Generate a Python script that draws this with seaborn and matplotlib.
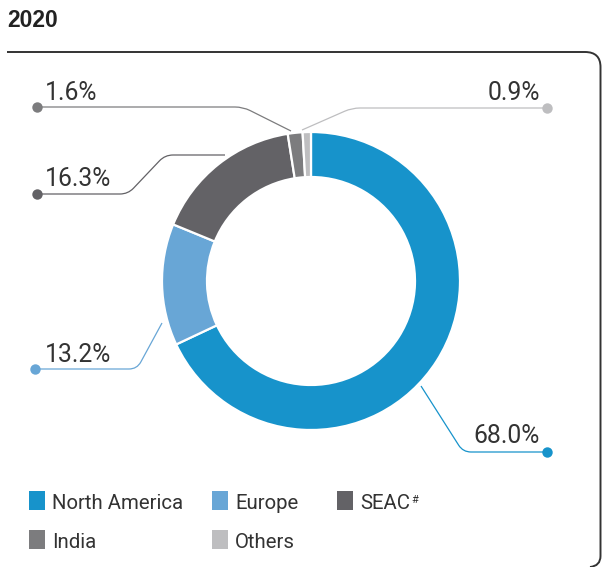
import numpy as np
import matplotlib
matplotlib.use("Agg")
import matplotlib.pyplot as plt
import seaborn as sns
from matplotlib.patches import Rectangle
from matplotlib.path import Path
from matplotlib.patches import PathPatch

# ---------------- data ----------------
title = "2020"
regions = ["North America", "Europe", "SEAC", "India", "Others"]
shares = [68.0, 13.2, 16.3, 1.6, 0.9]
colors = ["#1793cb", "#68a6d6", "#636266", "#7c7c7e", "#bebec0"]
label_texts = [f"{v:.1f}%" for v in shares]

# ---------------- style ----------------
sns.set_theme(style="white")
plt.rcParams["font.family"] = ["Roboto", "Liberation Sans", "DejaVu Sans"]
TXT = "#333333"

W, H = 602, 567
fig = plt.figure(figsize=(W / 100, H / 100), dpi=100)
ax = fig.add_axes([0, 0, 1, 1])


def Y(y):
    return H - y


# donut
ax.pie(shares, colors=colors, startangle=90, counterclock=False,
       radius=149, center=(311, Y(281)),
       wedgeprops=dict(width=45, edgecolor="white", linewidth=1.6))
ax.set_xlim(0, W)
ax.set_ylim(0, H)
ax.set_aspect("auto")
ax.axis("off")


def rounded_path(pts, r=8):
    pts = [np.array((x, Y(y)), float) for x, y in pts]
    verts = [pts[0]]
    codes = [Path.MOVETO]
    for i in range(1, len(pts) - 1):
        p0, p1, p2 = pts[i - 1], pts[i], pts[i + 1]
        d0 = (p0 - p1) / np.linalg.norm(p0 - p1)
        d2 = (p2 - p1) / np.linalg.norm(p2 - p1)
        a = p1 + d0 * r
        b = p1 + d2 * r
        verts += [a, p1, b]
        codes += [Path.LINETO, Path.CURVE3, Path.CURVE3]
    verts.append(pts[-1])
    codes.append(Path.LINETO)
    return Path(verts, codes)


# leader lines (layout geometry, pixel coords) per region
leaders = {
    "North America": [(547, 452), (463, 452), (421, 386)],
    "Europe": [(35, 369), (137, 369), (162, 323)],
    "SEAC": [(37, 194), (128, 194), (165, 155), (225, 155)],
    "India": [(37, 107), (243, 107), (291, 131)],
    "Others": [(547, 108), (352, 108), (302, 130)],
}
label_pos = {
    "North America": (540, 443, "right"),
    "Europe": (45, 362, "left"),
    "SEAC": (45, 186, "left"),
    "India": (45, 100, "left"),
    "Others": (540, 100, "right"),
}

for reg, col, lab in zip(regions, colors, label_texts):
    pts = leaders[reg]
    ax.add_patch(PathPatch(rounded_path(pts), facecolor="none", edgecolor=col,
                           lw=0.9, capstyle="butt"))
    ax.plot([pts[0][0]], [Y(pts[0][1])], "o", color=col, ms=7.5, mew=0)
    x, y, ha = label_pos[reg]
    ax.text(x, Y(y), lab, ha=ha, va="baseline", fontsize=17.8,
            color=TXT, fontweight="normal")

# title
ax.text(7, Y(27), title, ha="left", va="baseline", fontsize=16.5,
        fontweight="bold", color="#222222", family=["Liberation Sans", "DejaVu Sans"])

# frame (top and right edges, rounded corners)
rc = 15
fv = [(7, Y(52)), (600 - rc, Y(52)), (600.5, Y(52)), (600.5, Y(52 + rc)),
      (600.5, Y(556)), (600.5, Y(566)), (590, Y(567))]
fc = [Path.MOVETO, Path.LINETO, Path.CURVE3, Path.CURVE3,
      Path.LINETO, Path.CURVE3, Path.CURVE3]
ax.add_patch(PathPatch(Path(fv, fc), facecolor="none", edgecolor="#333333",
                       lw=1.4, clip_on=False))

# legend (manual layout, row-wise)
leg_x = [29, 212, 337, 29, 212]
leg_y = [491, 491, 491, 530, 530]
for reg, col, lx, ly in zip(regions, colors, leg_x, leg_y):
    ax.add_patch(Rectangle((lx, Y(ly + 19)), 16, 19, facecolor=col, edgecolor="none"))
    t = ax.text(lx + 23, Y(ly + 18), reg, ha="left", va="baseline",
                fontsize=14.7, color=TXT, fontweight="normal")
    if reg == "SEAC":
        fig.canvas.draw()
        bb = t.get_window_extent()
        ax.text(bb.x1 + 1, bb.y1 - 1, "#", transform=None, ha="left", va="top",
                fontsize=8, color=TXT, fontweight="normal")

fig.savefig("out.png", dpi=100, facecolor="white")
